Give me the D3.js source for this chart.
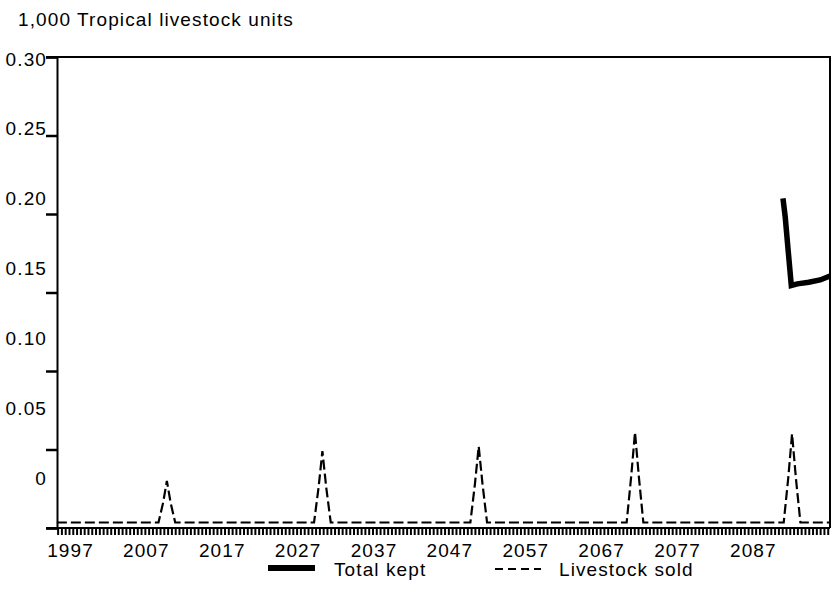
<!DOCTYPE html>
<html>
<head>
<meta charset="utf-8">
<script src="https://cdn.jsdelivr.net/npm/d3@7"></script>
<style>
  html, body { margin: 0; padding: 0; background: #fff; }
  svg { display: block; font-family: "Liberation Sans", Arial, sans-serif; }
  text { letter-spacing: 1.1px; }
</style>
</head>
<body>
<svg id="chart" width="831" height="605"></svg>
<script>
// Series: herd kept at the end of the run and livestock sold in sale years
const keptYears  = [2091.1, 2091.4, 2091.8, 2092.2, 2093.0, 2094.5, 2096.0, 2097.3];
const keptValues = [0.210, 0.198, 0.176, 0.1545, 0.1555, 0.1565, 0.158, 0.1605];

const soldYears  = [1995.4,
  2008.8, 2009.4, 2009.9, 2010.4, 2011.0,
  2029.3, 2029.9, 2030.4, 2030.9, 2031.5,
  2049.9, 2050.5, 2051.0, 2051.5, 2052.1,
  2070.5, 2071.1, 2071.6, 2072.1, 2072.7,
  2091.2, 2091.8, 2092.3, 2092.8, 2093.4,
  2097.3];
const soldValues = [0.0035,
  0.0035, 0.016, 0.030, 0.016, 0.0035,
  0.0035, 0.026, 0.049, 0.026, 0.0035,
  0.0035, 0.028, 0.052, 0.028, 0.0035,
  0.0035, 0.033, 0.061, 0.033, 0.0035,
  0.0035, 0.032, 0.060, 0.032, 0.0035,
  0.0035];

const yTicks = [0, 0.05, 0.10, 0.15, 0.20, 0.25, 0.30];
const yTickLabels = ["0", "0.05", "0.10", "0.15", "0.20", "0.25", "0.30"];
const xLabelYears = [1997, 2007, 2017, 2027, 2037, 2047, 2057, 2067, 2077, 2087];
const seriesNames = ["Total kept", "Livestock sold"];
const titleText = "1,000 Tropical livestock units";

const svg = d3.select("#chart");
const plotLeft = 57, plotRight = 830, plotTop = 57, plotBottom = 528;
const fontSize = 19;

const x = d3.scaleLinear().domain([1995.42, 2097.3]).range([plotLeft, plotRight]);
const y = d3.scaleLinear().domain([0, 0.30]).range([plotBottom, plotTop]);
// tick labels sit on their own, slightly compressed scale
const yLabel = d3.scaleLinear().domain([0, 0.30]).range([478, 59]);

// title
svg.append("text")
  .attr("x", 18).attr("y", 19)
  .attr("dominant-baseline", "central")
  .attr("font-size", fontSize)
  .text(titleText);

// frame: top and right edges
svg.append("path")
  .attr("d", `M${plotLeft - 11},${plotTop}H${plotRight}V${plotBottom}`)
  .attr("fill", "none").attr("stroke", "#000").attr("stroke-width", 2);

// y tick marks
const yAxis = svg.append("g")
  .attr("transform", `translate(${plotLeft},0)`)
  .call(d3.axisLeft(y).tickValues(yTicks).tickSize(11).tickFormat(""));
yAxis.selectAll("line").attr("stroke-width", 2.5);
yAxis.select(".domain").attr("stroke-width", 2);

// y tick labels
const yLab = svg.append("g")
  .attr("transform", `translate(${plotLeft - 10},0)`)
  .call(d3.axisLeft(yLabel).tickValues(yTicks).tickSize(0).tickPadding(0)
    .tickFormat((d, i) => yTickLabels[i]));
yLab.select(".domain").remove();
yLab.selectAll("text").attr("font-size", fontSize).attr("font-family", null).attr("fill", "#000");

// x minor ticks (half-year steps)
const halfYears = d3.range(1995.5, 2097.3, 0.5);
const xAxis = svg.append("g")
  .attr("transform", `translate(0,${plotBottom})`)
  .call(d3.axisBottom(x).tickValues(halfYears).tickSize(7).tickFormat(""));
xAxis.selectAll("line").attr("stroke-width", 2);
xAxis.select(".domain").attr("d", `M${plotLeft - 11},0H${plotRight}`).attr("stroke-width", 2);

// x labels
const xLab = svg.append("g")
  .attr("transform", `translate(1,${plotBottom + 15})`)
  .call(d3.axisBottom(x).tickValues(xLabelYears).tickSize(0).tickPadding(0)
    .tickFormat(d3.format("d")));
xLab.select(".domain").remove();
xLab.selectAll("text").attr("font-size", fontSize).attr("font-family", null).attr("fill", "#000");

const line = d3.line().x(d => x(d[0])).y(d => y(d[1]));
const sold = soldYears.map((t, i) => [t, soldValues[i]]);
const kept = keptYears.map((t, i) => [t, keptValues[i]]);

svg.append("path")
  .datum(sold)
  .attr("d", line)
  .attr("fill", "none").attr("stroke", "#000")
  .attr("stroke-width", 2.2).attr("stroke-dasharray", "10,4");

svg.append("path")
  .datum(kept)
  .attr("d", line)
  .attr("fill", "none").attr("stroke", "#000")
  .attr("stroke-width", 5.5).attr("stroke-linejoin", "miter");

// legend
const legend = svg.append("g");
legend.append("line")
  .attr("x1", 268).attr("x2", 315).attr("y1", 568).attr("y2", 568)
  .attr("stroke", "#000").attr("stroke-width", 6);
legend.append("text")
  .attr("x", 334).attr("y", 569).attr("dominant-baseline", "central")
  .attr("font-size", fontSize).text(seriesNames[0]);
legend.append("line")
  .attr("x1", 495).attr("x2", 541).attr("y1", 569).attr("y2", 569)
  .attr("stroke", "#000").attr("stroke-width", 2).attr("stroke-dasharray", "8,5");
legend.append("text")
  .attr("x", 559).attr("y", 569).attr("dominant-baseline", "central")
  .attr("font-size", fontSize).text(seriesNames[1]);
</script>
</body>
</html>
